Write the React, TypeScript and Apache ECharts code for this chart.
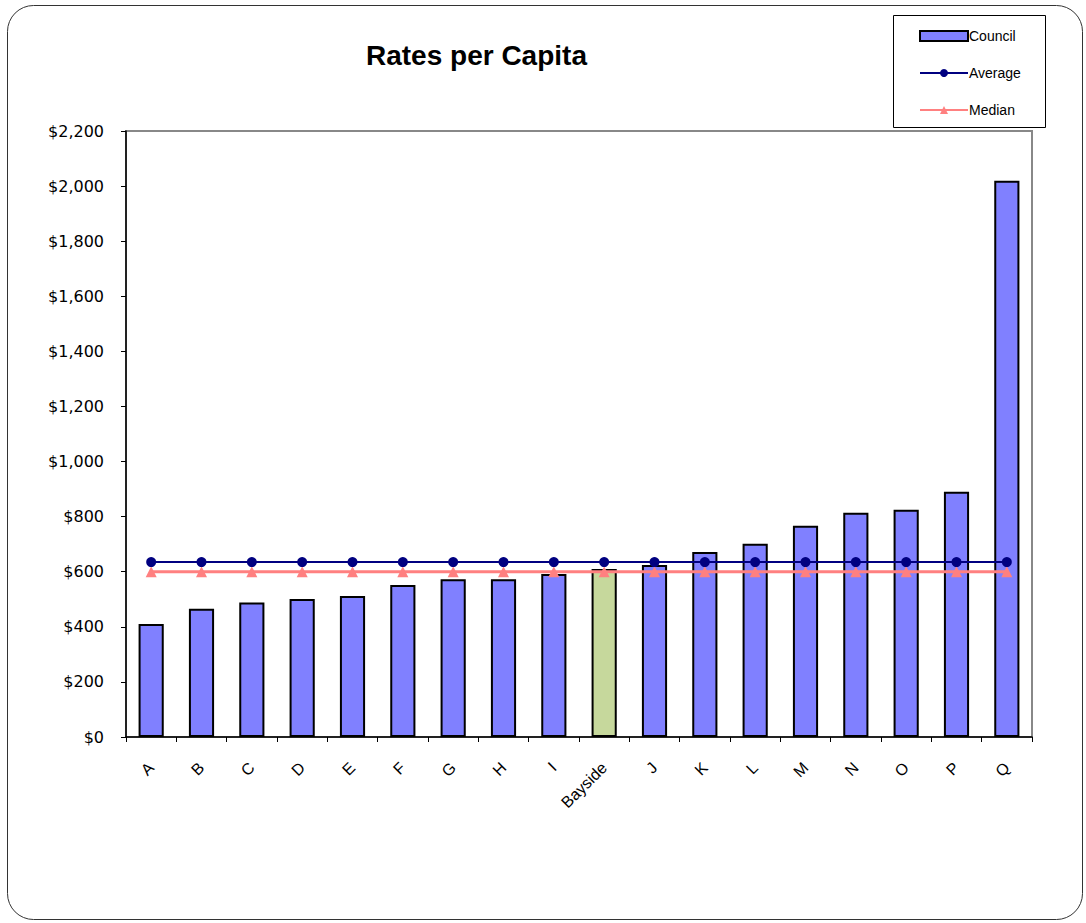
import React, { useEffect, useRef } from "react";
import * as echarts from "echarts";

const categories = ["A", "B", "C", "D", "E", "F", "G", "H", "I", "Bayside", "J", "K", "L", "M", "N", "O", "P", "Q"];
const councilValues = [410, 466, 488, 501, 512, 552, 573, 573, 592, 610, 624, 672, 702, 767, 814, 825, 890, 2019];
const averageValue = 635;
const medianValue = 600;
const highlightCategory = "Bayside";
const yTicks = { min: 0, max: 2200, interval: 200 };

export default function App() {
  const ref = useRef<HTMLDivElement>(null);
  useEffect(() => {
    if (!ref.current) return;
    const chart = echarts.init(ref.current, null, { renderer: "svg" });
    const font = "Arial, 'Liberation Sans', sans-serif";
    const wide = "'DejaVu Sans', Arial, sans-serif";
    chart.setOption({
      animation: false,
      backgroundColor: "#fff",
      title: {
        text: "Rates per Capita",
        left: 361,
        top: 36,
        textStyle: { fontFamily: font, fontSize: 28, fontWeight: "bold", color: "#000" },
      },
      graphic: [
        {
          type: "rect",
          shape: { x: 7.5, y: 5.5, width: 1075, height: 914, r: 26 },
          style: { fill: "none", stroke: "#333", lineWidth: 1 },
          z: -10,
        },
        {
          type: "rect",
          shape: { x: 893.5, y: 15.5, width: 152, height: 112 },
          style: { fill: "#fff", stroke: "#000", lineWidth: 1 },
          z: 10,
        },
      ],
      legend: {
        orient: "vertical",
        left: 914,
        top: 24,
        itemWidth: 48,
        itemHeight: 10,
        itemGap: 23,
        z: 20,
        textStyle: { fontFamily: font, fontSize: 14, color: "#000", padding: [0, 0, 0, -4] },
        data: [
          { name: "Council", icon: "rect" },
          { name: "Average" },
          { name: "Median" },
        ],
      },
      grid: {
        left: 126,
        top: 131,
        width: 906,
        height: 606,
        show: true,
        borderColor: "#888",
        borderWidth: 2,
        containLabel: false,
      },
      xAxis: {
        type: "category",
        data: categories,
        boundaryGap: true,
        axisLine: { lineStyle: { color: "#000", width: 1.5 } },
        axisTick: { show: true, alignWithLabel: false, length: 5, lineStyle: { color: "#000" } },
        axisLabel: { rotate: 45, fontFamily: font, fontSize: 16, color: "#000", margin: 28, interval: 0 },
      },
      yAxis: {
        type: "value",
        min: yTicks.min,
        max: yTicks.max,
        interval: yTicks.interval,
        splitLine: { show: false },
        axisLine: { show: true, lineStyle: { color: "#000", width: 1.5 } },
        axisTick: { show: true, length: 5, lineStyle: { color: "#000" } },
        axisLabel: {
          fontFamily: wide,
          fontSize: 16,
          color: "#000",
          margin: 22,
          formatter: (v: number) => "$" + v.toLocaleString("en-US"),
        },
      },
      series: [
        {
          name: "Council",
          type: "bar",
          barWidth: "50%",
          itemStyle: { color: "#8080FF", borderColor: "#000", borderWidth: 2 },
          data: councilValues.map((v, i) =>
            categories[i] === highlightCategory
              ? { value: v, itemStyle: { color: "#C6D89C" } }
              : v
          ),
          z: 2,
        },
        {
          name: "Average",
          type: "line",
          symbol: "circle",
          symbolSize: 10,
          itemStyle: { color: "#000080" },
          lineStyle: { color: "#000080", width: 2 },
          data: categories.map(() => averageValue),
          z: 4,
        },
        {
          name: "Median",
          type: "line",
          symbol: "triangle",
          symbolSize: 11,
          itemStyle: { color: "#FF8080" },
          lineStyle: { color: "#FF8080", width: 3 },
          data: categories.map(() => medianValue),
          z: 3,
        },
      ],
    });
    return () => chart.dispose();
  }, []);
  return (
    <div
      ref={ref}
      style={{ position: "absolute", left: 0, top: 0, width: 1086, height: 923 }}
    />
  );
}
